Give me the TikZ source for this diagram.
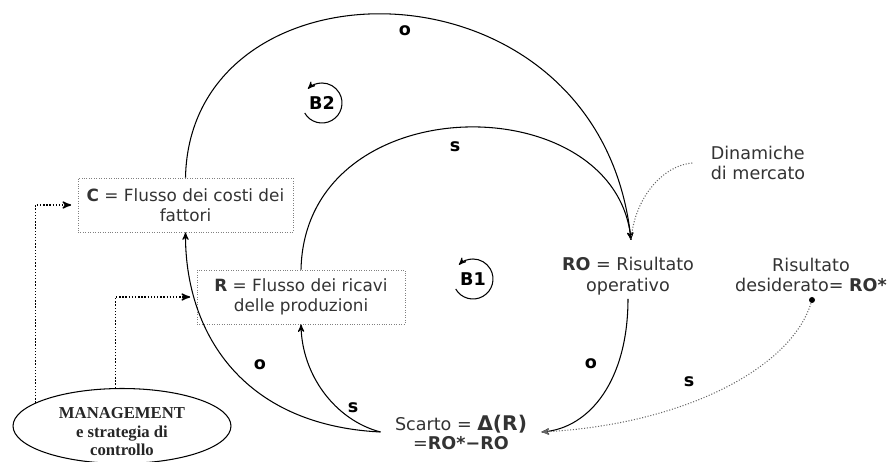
\documentclass[tikz,border=0pt]{standalone}
\usepackage{fontspec}
\setmainfont{DejaVu Sans}
\newfontfamily\mgmtfont{Liberation Serif}
\usetikzlibrary{
    arrows,
    shapes.geometric
}

\begin{document}
\begin{tikzpicture}[->,>=stealth',semithick,x=0.02cm,y=0.02cm,font=\fontsize{10}{11.7}\selectfont]
    \tikzstyle{flowbox}=[draw=gray,densely dotted,thin,minimum height=1.08cm,align=center,inner sep=1pt,text=black!80,font=\fontsize{9.6}{11.7}\selectfont]
    \tikzstyle{varnode}=[align=center,inner sep=2pt,text=black!80]
    \tikzstyle{signlabel}=[font=\fontsize{10}{12}\selectfont\bfseries,inner sep=1pt]
    \tikzstyle{loopsym}=[font=\fontsize{10}{12}\selectfont\bfseries,inner sep=0pt]
    \tikzstyle{mgmtline}=[densely dotted,thick,shorten >=0.13cm]
    \tikzstyle{extline}=[densely dotted,draw=black!60]

    \useasboundingbox (0,0) rectangle (887,-462);

    \node[flowbox,minimum width=4.3cm] (C) at (185.5,-205) {\textbf{C} = Flusso dei costi dei\\fattori};
    \node[flowbox,minimum width=4.16cm] (R) at (301,-297) {\textbf{R} = Flusso dei ricavi\\delle produzioni};
    \node[varnode] (RO) at (628,-276) {\textbf{RO} = Risultato\\operativo};
    \node[varnode,align=left,inner xsep=0.36cm] (DM) at (758,-163) {Dinamiche\\di mercato};
    \node[varnode] (RD) at (811,-275) {Risultato\\desiderato= \textbf{RO*}};
    \node[circle,fill,inner sep=0pt,minimum size=0.12cm] (RDdot) at (812,-300) {};
    \node[varnode,inner xsep=0.28cm,font=\fontsize{10}{10.8}\selectfont] (Scarto) at (461,-432) {Scarto = {\fontsize{11.5}{12}\selectfont\bfseries Δ(R)}\\=\textbf{RO*−RO}};
    \node[draw,ellipse,minimum width=4.36cm,minimum height=1.5cm,inner sep=0pt] (MGMT) at (122,-426) {};
    \node[font=\mgmtfont\bfseries\fontsize{9.5}{10.5}\selectfont,align=center,text=black!85,inner sep=1pt] (MGMTtext) at (122,-432) {MANAGEMENT\\e strategia di\\controllo};
    \coordinate (ROin) at (631,-240);

    % loop symbols
    \node[loopsym] (B2) at (322,-103) {B2};
    \node[loopsym] (B1) at (473,-279) {B1};
    \draw ([shift={(-150:20)}]B2.center) arc[start angle=-150,end angle=135,radius=20];
    \draw ([shift={(-150:20)}]B1.center) arc[start angle=-150,end angle=135,radius=20];

    % links
    \draw (C.north) .. controls (190,50) and (600,50) .. (ROin);
    \draw (R.north) .. controls (305,-85) and (615,-85) .. (ROin);
    \draw[extline,-] (DM.west) .. controls (665,-165) and (635,-195) .. (ROin);
    \draw (RO.south) .. controls (628,-380) and (590,-428) .. (Scarto.east);
    \draw[extline] (RDdot) .. controls (790,-370) and (680,-425) .. (Scarto.east);
    \draw (Scarto.west) .. controls (335,-420) and (302,-375) .. (R.south);
    \draw (Scarto.west) .. controls (240,-425) and (185,-330) .. (C.south);
    \draw[mgmtline] (MGMT.165) |- (C.west);
    \draw[mgmtline] (MGMT.100) |- (R.west);

    % signs
    \node[signlabel] (sO2) at (405,-31) {o};
    \node[signlabel] (sS1) at (455,-147) {s};
    \node[signlabel] (sO1) at (591,-364) {o};
    \node[signlabel] (sS3) at (689,-382) {s};
    \node[signlabel] (sS2) at (353,-408) {s};
    \node[signlabel] (sO3) at (260,-365) {o};
\end{tikzpicture}
\end{document}
